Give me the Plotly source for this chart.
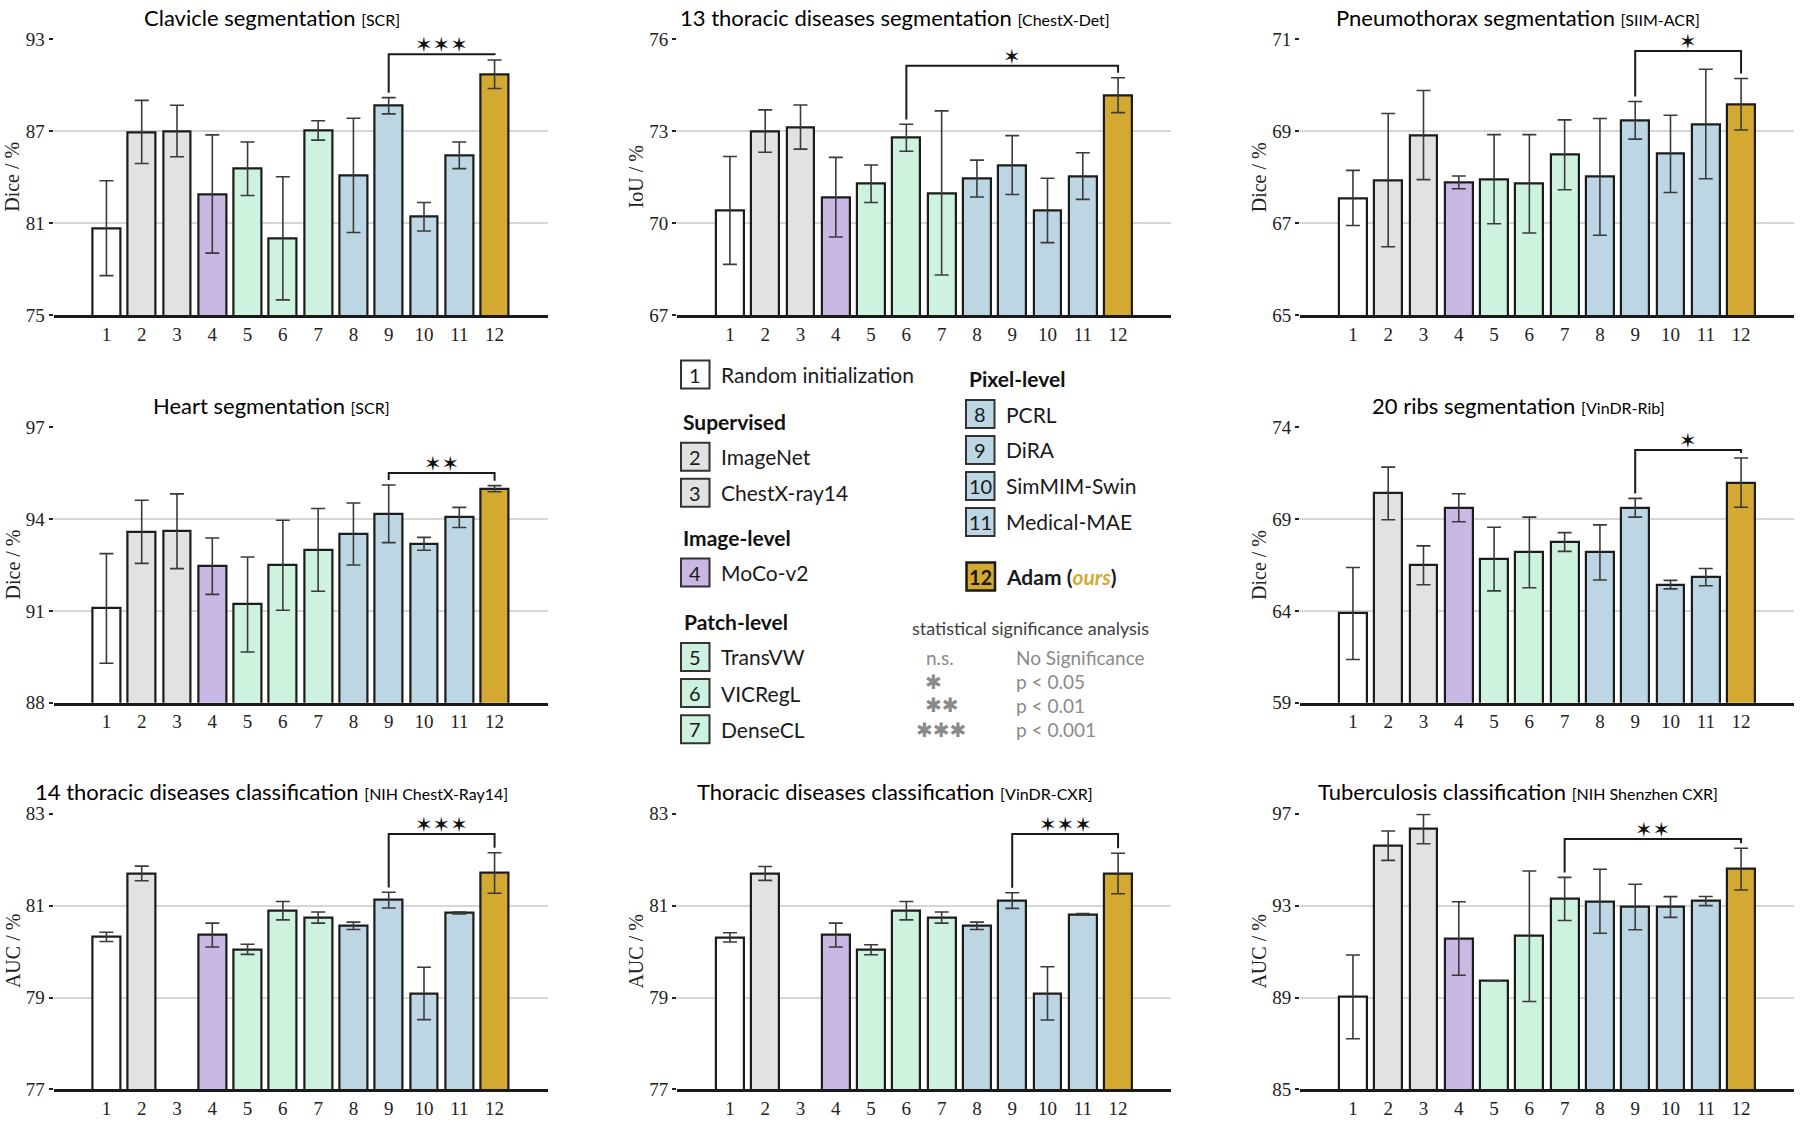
import plotly.graph_objects as go
import numpy as np

W, H = 1800, 1125

# ---------------- data ----------------
method_ids = list(range(1, 13))
method_names = ["Random initialization", "ImageNet", "ChestX-ray14", "MoCo-v2",
                "TransVW", "VICRegL", "DenseCL", "PCRL", "DiRA", "SimMIM-Swin",
                "Medical-MAE", "Adam (ours)"]
method_groups = ["random", "supervised", "supervised", "image", "patch", "patch",
                 "patch", "pixel", "pixel", "pixel", "pixel", "adam"]

clavicle_dice = [80.68, 86.96, 87.02, 82.91, 84.56, 80.02, 87.06, 84.13, 88.67, 81.43, 85.44, 90.73]
clavicle_err = [3.10, 2.06, 1.68, 3.86, 1.75, 4.02, 0.63, 3.73, 0.53, 0.93, 0.87, 0.93]

chestxdet_iou = [70.42, 73.01, 73.14, 70.85, 71.29, 72.79, 70.99, 71.46, 71.90, 70.42, 71.54, 74.18]
chestxdet_err = [1.76, 0.69, 0.72, 1.30, 0.61, 0.44, 2.68, 0.60, 0.96, 1.05, 0.76, 0.57]

siim_dice = [67.55, 67.94, 68.92, 67.89, 67.96, 67.86, 68.49, 68.01, 69.24, 68.51, 69.16, 69.59]
siim_err = [0.60, 1.45, 0.97, 0.14, 0.97, 1.07, 0.76, 1.27, 0.41, 0.84, 1.19, 0.56]

heart_dice = [91.08, 93.58, 93.60, 92.46, 91.21, 92.49, 92.99, 93.51, 94.17, 93.19, 94.05, 94.99]
heart_err = [1.79, 1.03, 1.22, 0.92, 1.55, 1.47, 1.35, 1.01, 0.94, 0.21, 0.33, 0.10]

ribs_dice = [63.86, 70.39, 66.48, 69.61, 66.82, 67.18, 67.75, 67.18, 69.61, 65.43, 65.84, 70.98]
ribs_err = [2.50, 1.43, 1.06, 0.76, 1.73, 1.92, 0.51, 1.50, 0.51, 0.23, 0.47, 1.34]

nih14_auc = [80.32, 81.70, None, 80.36, 80.05, 80.89, 80.74, 80.56, 81.12, 79.09, 80.84, 81.71]
nih14_err = [0.10, 0.16, None, 0.26, 0.11, 0.20, 0.12, 0.08, 0.17, 0.57, 0.02, 0.44]

vindrcxr_auc = [80.31, 81.70, None, 80.36, 80.04, 80.89, 80.74, 80.56, 81.11, 79.09, 80.81, 81.70]
vindrcxr_err = [0.10, 0.15, None, 0.26, 0.11, 0.20, 0.12, 0.08, 0.17, 0.58, 0.02, 0.44]

shenzhen_auc = [89.03, 95.61, 96.33, 91.57, 89.73, 91.67, 93.29, 93.19, 92.94, 92.94, 93.20, 94.59]
shenzhen_err = [1.82, 0.64, 0.64, 1.60, 0.00, 2.84, 0.94, 1.39, 0.99, 0.45, 0.20, 0.91]

# significance: (compared method, ours, number of stars, bracket level)
clavicle_sig = (9, 12, 3, 92.04)
chestxdet_sig = (6, 12, 1, 75.14)
siim_sig = (9, 12, 1, 70.75)
heart_sig = (9, 12, 2, 95.50)
ribs_sig = (9, 12, 1, 72.75)
nih14_sig = (9, 12, 3, 82.56)
vindrcxr_sig = (9, 12, 3, 82.56)
shenzhen_sig = (7, 12, 2, 95.90)

# ---------------- style ----------------
group_colors = {
    "random": "#ffffff", "supervised": "#e2e2e2", "image": "#c9b8e3",
    "patch": "#cdf2dd", "pixel": "#bcd6e4", "adam": "#d4a931",
}
SERIF = "Liberation Serif"
SANS = "Lato"
STAR = "\u2736"

panels = [
    dict(title="Clavicle segmentation", ds="[SCR]", ylab="Dice / %", v=clavicle_dice, e=clavicle_err, yr=(75, 93), sig=clavicle_sig, pos=(0, 0)),
    dict(title="13 thoracic diseases segmentation", ds="[ChestX-Det]", ylab="IoU / %", v=chestxdet_iou, e=chestxdet_err, yr=(67, 76), sig=chestxdet_sig, pos=(1, 0)),
    dict(title="Pneumothorax segmentation", ds="[SIIM-ACR]", ylab="Dice / %", v=siim_dice, e=siim_err, yr=(65, 71), sig=siim_sig, pos=(2, 0)),
    dict(title="Heart segmentation", ds="[SCR]", ylab="Dice / %", v=heart_dice, e=heart_err, yr=(88, 97), sig=heart_sig, pos=(0, 1)),
    dict(title="20 ribs segmentation", ds="[VinDR-Rib]", ylab="Dice / %", v=ribs_dice, e=ribs_err, yr=(59, 74), sig=ribs_sig, pos=(2, 1)),
    dict(title="14 thoracic diseases classification", ds="[NIH ChestX-Ray14]", ylab="AUC / %", v=nih14_auc, e=nih14_err, yr=(77, 83), sig=nih14_sig, pos=(0, 2)),
    dict(title="Thoracic diseases classification", ds="[VinDR-CXR]", ylab="AUC / %", v=vindrcxr_auc, e=vindrcxr_err, yr=(77, 83), sig=vindrcxr_sig, pos=(1, 2)),
    dict(title="Tuberculosis classification", ds="[NIH Shenzhen CXR]", ylab="AUC / %", v=shenzhen_auc, e=shenzhen_err, yr=(85, 97), sig=shenzhen_sig, pos=(2, 2)),
]

col_left = [53.5, 677, 1300]
col_w = 494
row_top = [30, 425, 819]
row_h = 281

fig = go.Figure()
bar_colors = [group_colors[g] for g in method_groups]

for i, p in enumerate(panels):
    k = "" if i == 0 else str(i + 1)
    xa, ya = "x" + k, "y" + k
    col, row = p["pos"]
    lo, hi = p["yr"]
    fig.add_trace(go.Bar(
        x=method_ids, y=p["v"], width=0.79,
        marker=dict(color=bar_colors, line=dict(color="#1c1c1c", width=2.2)),
        error_y=dict(type="data", array=p["e"], visible=True, color="#3a3a3a", thickness=1.6, width=7),
        xaxis=xa, yaxis=ya, hoverinfo="skip", showlegend=False,
    ))
    x0 = col_left[col] / W
    x1 = (col_left[col] + col_w) / W
    y1 = 1 - row_top[row] / H
    y0 = 1 - (row_top[row] + row_h) / H
    fig.layout["xaxis" + k] = dict(
        domain=[x0, x1], anchor=ya, range=[-0.5, 13.5],
        tickvals=method_ids, ticktext=[str(m) for m in method_ids], ticks="",
        showgrid=False, zeroline=False, showline=True, linecolor="#1a1a1a", linewidth=2.5,
        tickfont=dict(family=SERIF, size=19, color="#222"), fixedrange=True,
    )
    yt = list(np.linspace(lo, hi, 4))
    fig.layout["yaxis" + k] = dict(
        domain=[y0, y1], anchor=xa, range=[lo, hi],
        tickvals=yt, ticktext=[f"{t:g}" for t in yt], ticks="outside", ticklen=4,
        tickwidth=1.5, tickcolor="#222", showline=False, zeroline=False,
        showgrid=True, gridcolor="#d6d6d6", gridwidth=1.5,
        tickfont=dict(family=SERIF, size=19, color="#222"), fixedrange=True,
    )
    # title
    fig.add_annotation(
        xref=xa + " domain", yref=ya + " domain", x=0.5 - 29 / col_w, y=1,
        text=f"{p['title']} <span style='font-size:16px'>{p['ds']}</span>",
        showarrow=False, xanchor="center", yanchor="middle", yshift=22,
        font=dict(family=SANS, size=22, color="#000"),
    )
    # y label
    fig.add_annotation(
        xref=xa + " domain", yref=ya + " domain", x=0, y=0.5, xshift=-41,
        text=p["ylab"], textangle=-90, showarrow=False, xanchor="center", yanchor="middle",
        font=dict(family=SERIF, size=20, color="#222"),
    )
    # significance bracket
    a, b, n, lvl = p["sig"]
    upp = (hi - lo) / row_h
    ta = p["v"][a - 1] + p["e"][a - 1] + 5 * upp
    tb = p["v"][b - 1] + p["e"][b - 1] + 5 * upp
    fig.add_shape(type="path", xref=xa, yref=ya,
                  path=f"M {a},{ta} L {a},{lvl} L {b},{lvl} L {b},{tb}",
                  line=dict(color="#1a1a1a", width=2))
    fig.add_annotation(xref=xa, yref=ya, x=(a + b) / 2, y=lvl, text=STAR * n,
                       showarrow=False, xanchor="center", yanchor="middle", yshift=9,
                       font=dict(family="DejaVu Sans", size=21, color="#111"))

# ---------------- custom legend ----------------
def px(x):
    return x / W

def py(y):
    return 1 - y / H

BOX = 28.5
legend_items = [
    # (method index, box left x, center y)
    (1, 681, 371.5), (2, 681, 455.3), (3, 681, 492), (4, 681, 573.3),
    (5, 681, 659.3), (6, 681, 696), (7, 681, 733),
    (8, 966, 411.7), (9, 966, 448.3), (10, 966, 485), (11, 966, 521.7), (12, 966.5, 577.3),
]
for mid, bx, cy in legend_items:
    is_ours = mid == 12
    fig.add_shape(type="rect", xref="paper", yref="paper",
                  x0=px(bx), x1=px(bx + BOX), y0=py(cy + BOX / 2), y1=py(cy - BOX / 2),
                  fillcolor=group_colors[method_groups[mid - 1]],
                  line=dict(color="#1a1a1a" if is_ours else "#333", width=2.5 if is_ours else 2))
    fig.add_annotation(xref="paper", yref="paper", x=px(bx + BOX / 2), y=py(cy),
                       text=f"<b>{mid}</b>" if is_ours else str(mid), showarrow=False,
                       xanchor="center", yanchor="middle",
                       font=dict(family=SANS, size=20, color="#1a1a1a"))
    name = method_names[mid - 1]
    if is_ours:
        name = "<b>Adam (<i><span style='color:#d4a931'>ours</span></i>)</b>"
    fig.add_annotation(xref="paper", yref="paper", x=px(bx + BOX + 9), y=py(cy),
                       text=name, showarrow=False, xanchor="left", yanchor="middle",
                       font=dict(family=SANS, size=21, color="#1a1a1a"))

for txt, lx, cy in [("Supervised", 681, 419), ("Image-level", 681, 537.3),
                    ("Patch-level", 682, 623.3), ("Pixel-level", 967, 375.7)]:
    fig.add_annotation(xref="paper", yref="paper", x=px(lx), y=py(cy), text=f"<b>{txt}</b>",
                       showarrow=False, xanchor="left", yanchor="middle",
                       font=dict(family=SANS, size=21, color="#111"))

fig.add_annotation(xref="paper", yref="paper", x=px(1030), y=py(629.3),
                   text="statistical significance analysis", showarrow=False,
                   xanchor="center", yanchor="middle",
                   font=dict(family=SANS, size=18, color="#404040"))
sig_legend = [("n.s.", "No Significance", 940, 660),
              ("\u2731", "p < 0.05", 933, 684.3),
              ("\u2731\u2731", "p < 0.01", 941.7, 708.3),
              ("\u2731\u2731\u2731", "p < 0.001", 941, 733.3)]
for sym, desc, sx, cy in sig_legend:
    is_ns = sym == "n.s."
    fig.add_annotation(xref="paper", yref="paper", x=px(sx), y=py(cy), text=sym,
                       showarrow=False, xanchor="center", yanchor="middle",
                       font=dict(family=SANS if is_ns else "DejaVu Sans", size=19 if is_ns else 20,
                                 color="#8a8a8a"))
    fig.add_annotation(xref="paper", yref="paper", x=px(1014), y=py(cy), text=desc,
                       showarrow=False, xanchor="left", yanchor="middle",
                       font=dict(family=SANS, size=19, color="#8a8a8a"))

fig.update_layout(
    width=W, height=H, margin=dict(l=0, r=0, t=0, b=0),
    paper_bgcolor="white", plot_bgcolor="white", showlegend=False, bargap=0,
)

fig.write_html("out.html", config={"displayModeBar": False},
               post_script="document.body.style.margin='0';")
